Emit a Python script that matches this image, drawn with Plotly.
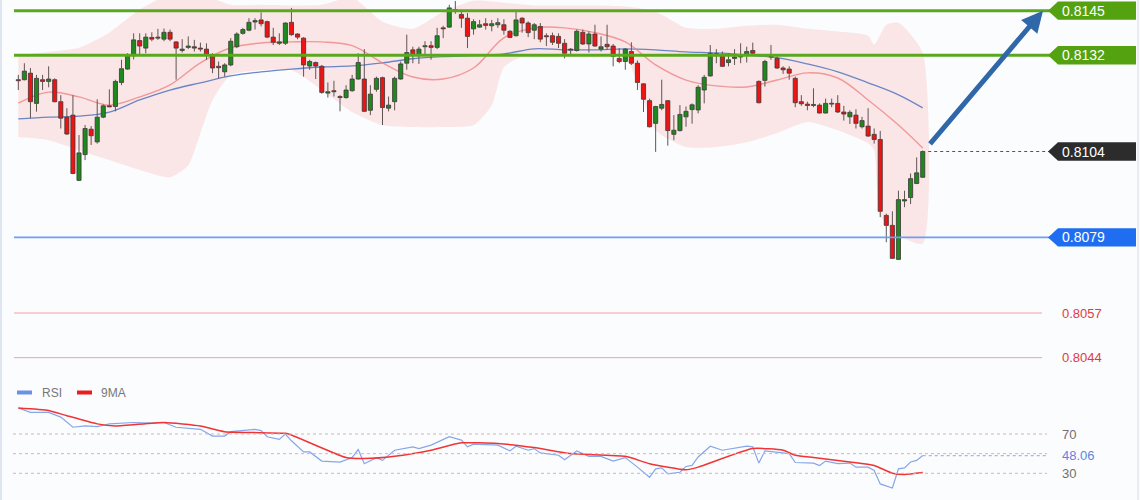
import plotly.graph_objects as go

# ---------------- data ----------------
open_ = [0.81249,0.81249,0.81268,0.81180,0.81249,0.81244,0.81249,0.81185,0.81140,0.81146,
         0.80956,0.81031,0.81105,0.81068,0.81140,0.81173,0.81171,0.81241,0.81280,0.81319,
         0.81363,0.81341,0.81372,0.81370,0.81367,0.81387,0.81359,0.81334,0.81343,0.81345,
         0.81341,0.81338,0.81322,0.81288,0.81272,0.81292,0.81345,0.81384,0.81393,0.81417,
         0.81423,0.81418,0.81373,0.81355,0.81355,0.81416,0.81382,0.81370,0.81289,0.81299,
         0.81288,0.81210,0.81217,0.81200,0.81197,0.81217,0.81251,0.81251,0.81160,0.81221,
         0.81255,0.81166,0.81185,0.81251,0.81297,0.81336,0.81319,0.81345,0.81348,0.81343,
         0.81400,0.81402,0.81453,0.81439,0.81428,0.81397,0.81402,0.81412,0.81406,0.81409,
         0.81409,0.81390,0.81377,0.81428,0.81414,0.81393,0.81404,0.81377,0.81377,0.81375,
         0.81355,0.81338,0.81334,0.81387,0.81353,0.81382,0.81338,0.81352,0.81347,0.81311,
         0.81302,0.81331,0.81297,0.81237,0.81188,0.81122,0.81166,0.81188,0.81090,0.81101,
         0.81141,0.81162,0.81161,0.81219,0.81260,0.81319,0.81322,0.81299,0.81311,0.81315,
         0.81322,0.81334,0.81244,0.81247,0.81315,0.81311,0.81283,0.81280,0.81253,0.81185,
         0.81178,0.81174,0.81175,0.81152,0.81180,0.81180,0.81155,0.81141,0.81146,0.81112,
         0.81114,0.81090,0.81075,0.80854,0.80825,0.80726,0.80896,0.80906,0.80947,0.80965]
high = [0.81263,0.81297,0.81283,0.81263,0.81263,0.81288,0.81253,0.81204,0.81166,0.81204,
        0.81088,0.81117,0.81114,0.81192,0.81177,0.81221,0.81249,0.81307,0.81326,0.81384,
        0.81384,0.81384,0.81387,0.81397,0.81398,0.81395,0.81361,0.81367,0.81375,0.81365,
        0.81357,0.81355,0.81326,0.81302,0.81297,0.81370,0.81387,0.81400,0.81428,0.81428,
        0.81445,0.81421,0.81400,0.81384,0.81416,0.81458,0.81384,0.81373,0.81307,0.81302,
        0.81292,0.81241,0.81246,0.81204,0.81233,0.81263,0.81326,0.81338,0.81233,0.81258,
        0.81258,0.81200,0.81258,0.81302,0.81380,0.81345,0.81345,0.81361,0.81361,0.81400,
        0.81406,0.81467,0.81478,0.81453,0.81443,0.81425,0.81423,0.81428,0.81423,0.81428,
        0.81425,0.81393,0.81448,0.81431,0.81419,0.81414,0.81414,0.81384,0.81386,0.81384,
        0.81367,0.81341,0.81395,0.81395,0.81390,0.81409,0.81375,0.81409,0.81353,0.81341,
        0.81341,0.81358,0.81305,0.81239,0.81194,0.81173,0.81249,0.81190,0.81146,0.81175,
        0.81171,0.81180,0.81233,0.81263,0.81350,0.81338,0.81331,0.81326,0.81338,0.81355,
        0.81345,0.81357,0.81247,0.81307,0.81350,0.81317,0.81288,0.81288,0.81258,0.81204,
        0.81185,0.81224,0.81180,0.81194,0.81194,0.81204,0.81173,0.81160,0.81163,0.81141,
        0.81166,0.81107,0.81100,0.80859,0.80866,0.80926,0.80926,0.80976,0.81023,0.81043]
low = [0.81219,0.81247,0.81137,0.81156,0.81219,0.81227,0.81183,0.81107,0.81088,0.80974,
       0.80954,0.81015,0.81059,0.81063,0.81137,0.81169,0.81157,0.81233,0.81278,0.81308,
       0.81319,0.81326,0.81361,0.81365,0.81361,0.81361,0.81249,0.81328,0.81338,0.81331,
       0.81331,0.81307,0.81268,0.81253,0.81258,0.81288,0.81341,0.81380,0.81390,0.81395,
       0.81404,0.81370,0.81350,0.81350,0.81350,0.81377,0.81367,0.81258,0.81278,0.81251,
       0.81208,0.81197,0.81200,0.81157,0.81194,0.81214,0.81249,0.81155,0.81146,0.81214,
       0.81117,0.81157,0.81160,0.81249,0.81278,0.81297,0.81295,0.81322,0.81307,0.81338,
       0.81370,0.81400,0.81441,0.81400,0.81341,0.81380,0.81400,0.81395,0.81390,0.81400,
       0.81380,0.81370,0.81375,0.81386,0.81373,0.81367,0.81358,0.81347,0.81350,0.81341,
       0.81311,0.81319,0.81331,0.81350,0.81328,0.81345,0.81331,0.81336,0.81288,0.81297,
       0.81278,0.81292,0.81219,0.81155,0.81110,0.81039,0.81160,0.81057,0.81073,0.81098,
       0.81112,0.81121,0.81151,0.81180,0.81258,0.81297,0.81286,0.81288,0.81292,0.81297,
       0.81299,0.81322,0.81180,0.81229,0.81307,0.81280,0.81266,0.81249,0.81169,0.81173,
       0.81160,0.81169,0.81151,0.81151,0.81169,0.81152,0.81130,0.81120,0.81107,0.81107,
       0.81083,0.81063,0.80849,0.80776,0.80728,0.80724,0.80878,0.80887,0.80945,0.80965]
close = [0.81246,0.81274,0.81185,0.81253,0.81244,0.81251,0.81185,0.81137,0.81091,0.80976,
         0.81036,0.81107,0.81086,0.81140,0.81173,0.81170,0.81244,0.81281,0.81317,0.81365,
         0.81347,0.81373,0.81367,0.81373,0.81387,0.81367,0.81341,0.81338,0.81347,0.81341,
         0.81338,0.81322,0.81283,0.81284,0.81292,0.81361,0.81382,0.81395,0.81416,0.81421,
         0.81412,0.81373,0.81358,0.81359,0.81414,0.81380,0.81373,0.81292,0.81302,0.81289,
         0.81212,0.81214,0.81214,0.81197,0.81219,0.81251,0.81299,0.81157,0.81207,0.81253,
         0.81168,0.81175,0.81253,0.81295,0.81328,0.81322,0.81338,0.81348,0.81343,0.81377,
         0.81397,0.81458,0.81450,0.81428,0.81375,0.81418,0.81409,0.81407,0.81412,0.81415,
         0.81393,0.81372,0.81423,0.81414,0.81386,0.81409,0.81367,0.81374,0.81358,0.81355,
         0.81326,0.81335,0.81390,0.81353,0.81382,0.81347,0.81345,0.81345,0.81317,0.81302,
         0.81338,0.81297,0.81241,0.81192,0.81112,0.81171,0.81177,0.81101,0.81102,0.81148,
         0.81157,0.81176,0.81227,0.81256,0.81326,0.81325,0.81288,0.81307,0.81315,0.81322,
         0.81331,0.81326,0.81182,0.81302,0.81317,0.81283,0.81278,0.81268,0.81182,0.81179,
         0.81174,0.81177,0.81152,0.81180,0.81178,0.81155,0.81149,0.81154,0.81122,0.81130,
         0.81085,0.81075,0.80866,0.80825,0.80729,0.80900,0.80900,0.80961,0.80978,0.81040]
candle_idx = list(range(len(close)))

bb_up_idx = [0,5,10,15,20,25,30,35,40,45,50,55,60,65,70,75,80,85,90,95,100,105,110,115,
             120,125,130,135,140,141,143,145,149]
bb_upper = [0.81321,0.81330,0.81342,0.81386,0.81453,0.81497,0.81497,0.81467,0.81467,0.81465,
            0.81467,0.81488,0.81418,0.81397,0.81447,0.81479,0.81473,0.81465,0.81465,0.81465,
            0.81462,0.81447,0.81400,0.81397,0.81406,0.81409,0.81397,0.81389,0.81377,0.81351,
            0.81409,0.81415,0.81327]
bb_lo_idx = [0,5,10,15,20,25,28,30,32,35,40,45,50,55,60,65,70,75,78,80,83,85,90,95,100,103,
             105,110,115,120,125,130,135,140,141,142,145,149]
bb_lower = [0.81082,0.81073,0.81044,0.81015,0.80986,0.80965,0.81000,0.81094,0.81190,0.81263,
            0.81277,0.81277,0.81219,0.81155,0.81117,0.81111,0.81111,0.81117,0.81175,0.81286,
            0.81316,0.81316,0.81316,0.81316,0.81313,0.81190,0.81102,0.81053,0.81053,0.81067,
            0.81094,0.81126,0.81102,0.81064,0.81044,0.80854,0.80796,0.80772]
ma_idx = [0,5,10,15,20,25,30,35,40,45,50,55,60,65,70,75,80,85,90,95,100,105,110,115,120,125,
          130,135,140,145,149]
ma_fast = [0.81181,0.81213,0.81199,0.81175,0.81199,0.81234,0.81298,0.81342,0.81356,0.81359,
           0.81359,0.81348,0.81298,0.81257,0.81251,0.81283,0.81371,0.81400,0.81400,0.81386,
           0.81359,0.81292,0.81248,0.81231,0.81228,0.81248,0.81269,0.81254,0.81190,0.81117,
           0.81050]
ma_slow = [0.81135,0.81140,0.81143,0.81155,0.81190,0.81219,0.81240,0.81260,0.81272,0.81280,
           0.81286,0.81289,0.81298,0.81310,0.81316,0.81319,0.81324,0.81339,0.81336,0.81336,
           0.81339,0.81336,0.81330,0.81327,0.81321,0.81313,0.81295,0.81272,0.81240,0.81205,
           0.81167]

rsi_idx = [0,2,5,7,9,11,13,15,19,22,24,26,30,32,34,35,39,40,41,43,44,45,47,48,50,53,55,56,57,
           59,60,62,65,66,68,71,73,74,75,79,81,82,84,85,86,89,90,92,94,96,98,100,102,104,105,
           106,107,109,110,111,112,114,116,118,120,121,122,123,125,127,128,131,132,133,135,
           137,138,140,141,142,144,145,146,147,148,149]
rsi = [96.5,92.0,92.0,87.2,76.9,78.2,77.5,80.3,81.7,81.0,81.7,76.9,74.8,67.9,67.9,72.4,74.8,
       73.4,67.2,64.5,70.0,63.1,51.8,51.8,42.5,41.5,46.0,54.2,39.8,46.0,43.2,53.5,56.9,55.2,
       58.7,67.2,63.8,56.9,59.7,58.7,52.8,57.6,53.5,55.2,50.8,48.4,43.9,52.8,47.3,47.3,42.5,
       46.0,36.3,26.0,34.6,35.6,29.5,31.1,37.0,38.0,46.6,57.6,53.5,55.2,57.6,56.9,40.4,52.8,
       51.8,50.1,41.0,40.4,38.0,42.5,39.8,40.4,36.3,36.3,32.9,19.2,15.1,34.6,35.6,41.5,43.2,
       48.06]
ma9_idx = [0,5,8,13,16,24,30,34,44,45,54,57,62,68,73,79,85,91,100,104,110,112,121,126,128,
           131,137,141,144,146,149]
ma9 = [96.5,94.0,88.6,80.3,78.2,81.7,78.2,72.4,70.7,69.0,46.0,45.0,47.3,53.5,61.0,60.3,56.2,
       50.1,47.3,39.8,33.6,36.3,55.2,53.5,48.4,46.0,41.5,38.0,30.1,28.8,30.8]

green_levels = [0.8145, 0.8132]
current_level = 0.8104
support_level = 0.8079
red_levels = [0.8057, 0.8044]
rsi_levels = [70, 50, 30]
rsi_last = 48.06

# ---------------- layout geometry ----------------
W, H = 1140, 500
X0_PX, DX_PX = 18.3, 6.07               # pixel of first candle, pixel step per candle
x_range = [(0 - X0_PX) / DX_PX, (W - X0_PX) / DX_PX]
PRICE_BOTTOM_PX = 380
price_range = [0.80375, 0.81481]
rsi_range = [2.86, 104.6]
price_per_px = (price_range[1] - price_range[0]) / PRICE_BOTTOM_PX

def px(xp):
    return xp / W

def ypaper(yp):
    return 1 - yp / H

FONT = "Liberation Sans, Arial, sans-serif"
UP_COL, DOWN_COL = "#1d8a1d", "#ee1414"

fig = go.Figure()

# Bollinger band fill and moving averages (base price axis, drawn underneath)
fig.add_trace(go.Scatter(
    x=bb_up_idx + bb_lo_idx[::-1], y=bb_upper + bb_lower[::-1],
    fill="toself", fillcolor="rgba(252,208,208,0.5)", mode="lines",
    line=dict(width=0, shape="spline", smoothing=0.6), hoverinfo="skip", showlegend=False))
fig.add_trace(go.Scatter(x=ma_idx, y=ma_slow, mode="lines",
                         line=dict(color="#6a86c4", width=1.3, shape="spline"),
                         hoverinfo="skip", showlegend=False))
fig.add_trace(go.Scatter(x=ma_idx, y=ma_fast, mode="lines",
                         line=dict(color="rgba(238,125,125,0.75)", width=1.4, shape="spline"),
                         hoverinfo="skip", showlegend=False))

# candles on an overlaying price axis so they sit above the band
body_top = [max(o, c) for o, c in zip(open_, close)]
body_base = [min(o, c) for o, c in zip(open_, close)]
wx, wy = [], []
for i, h, l, bt, bb in zip(candle_idx, high, low, body_top, body_base):
    wx += [i, i, None, i, i, None]
    wy += [bt, h, None, l, bb, None]
body_len = [max(t - b, 0.000025) for t, b in zip(body_top, body_base)]
body_col = [UP_COL if c >= o else DOWN_COL for o, c in zip(open_, close)]
fig.add_trace(go.Scatter(x=wx, y=wy, mode="lines", yaxis="y3",
                         line=dict(color="#5e5454", width=1),
                         hoverinfo="skip", showlegend=False))
fig.add_trace(go.Bar(x=candle_idx, y=body_len, base=body_base, width=0.68, yaxis="y3",
                     marker=dict(color=body_col, line=dict(color="#3b3333", width=0.8)),
                     hoverinfo="skip", showlegend=False))

# RSI panel
fig.add_trace(go.Scatter(x=rsi_idx, y=rsi, mode="lines", yaxis="y2",
                         line=dict(color="#86a6ea", width=1.2),
                         hoverinfo="skip", showlegend=False))
fig.add_trace(go.Scatter(x=ma9_idx, y=ma9, mode="lines", yaxis="y2",
                         line=dict(color="#f03434", width=1.5, shape="spline", smoothing=0.5),
                         hoverinfo="skip", showlegend=False))

shapes = []
annotations = []

# frame lines
shapes.append(dict(type="line", xref="paper", yref="paper", x0=px(1), x1=px(1), y0=0, y1=1,
                   line=dict(color="#dfe6f2", width=2)))
shapes.append(dict(type="line", xref="paper", yref="paper", x0=px(1138), x1=px(1138), y0=0, y1=1,
                   line=dict(color="#e6ebf4", width=2)))

LINE_X0, LINE_X1 = px(14), px(1050)
for lv in green_levels:
    shapes.append(dict(type="line", xref="paper", yref="y", x0=LINE_X0, x1=LINE_X1, y0=lv, y1=lv,
                       line=dict(color="#5aa81e", width=3)))
shapes.append(dict(type="line", xref="paper", yref="y", x0=LINE_X0, x1=LINE_X1,
                   y0=support_level, y1=support_level, line=dict(color="#6c9ef2", width=1.6)))
for lv in red_levels:
    shapes.append(dict(type="line", xref="paper", yref="y", x0=LINE_X0, x1=px(1042), y0=lv, y1=lv,
                       line=dict(color="#f4a0a0", width=1)))
shapes.append(dict(type="line", xref="x", yref="y", x0=candle_idx[-1] + 0.9, x1=(1050 - X0_PX) / DX_PX,
                   y0=current_level, y1=current_level,
                   line=dict(color="#555555", width=1.2, dash="dot")))

def tag(level, color, text):
    half = 9.2 * price_per_px
    xt, xb, xr = px(1048), px(1058), px(1136)
    path = (f"M {xt},{level} L {xb},{level + half} L {xr},{level + half} "
            f"L {xr},{level - half} L {xb},{level - half} Z")
    shapes.append(dict(type="path", xref="paper", yref="y", path=path,
                       fillcolor=color, line=dict(width=0)))
    annotations.append(dict(x=px(1060), y=level, xref="paper", yref="y", text=text,
                            showarrow=False, xanchor="left", yanchor="middle",
                            font=dict(family=FONT, size=14, color="#ffffff")))

for lv in green_levels:
    tag(lv, "#55a210", f"{lv:.4f}")
tag(current_level, "#2c2c2c", f"{current_level:.4f}")
tag(support_level, "#1f6ef2", f"{support_level:.4f}")
for lv in red_levels:
    annotations.append(dict(x=px(1060), y=lv, xref="paper", yref="y", text=f"{lv:.4f}",
                            showarrow=False, xanchor="left", yanchor="middle",
                            font=dict(family=FONT, size=13, color="#e23a3a")))

# forecast arrow from last candle to the upper target
annotations.append(dict(
    x=(1043 - X0_PX) / DX_PX, y=green_levels[0], xref="x", yref="y",
    ax=candle_idx[-1] + 1.0, ay=close[-1] + 0.00018, axref="x", ayref="y",
    text="", showarrow=True, arrowhead=2, arrowsize=0.85, arrowwidth=5, arrowcolor="#2f67a8"))

# RSI guide lines and labels
for lv in rsi_levels:
    shapes.append(dict(type="line", xref="paper", yref="y2", x0=px(13), x1=px(1047), y0=lv, y1=lv,
                       line=dict(color="#dcb0b0", width=1, dash="dot")))
shapes.append(dict(type="line", xref="x", yref="y2", x0=rsi_idx[-1], x1=(1047 - X0_PX) / DX_PX,
                   y0=rsi_last, y1=rsi_last, line=dict(color="#9cb8f0", width=1.2, dash="dot")))
for lv in (70, 30):
    annotations.append(dict(x=px(1060), y=lv, xref="paper", yref="y2", text=str(lv),
                            showarrow=False, xanchor="left", yanchor="middle",
                            font=dict(family=FONT, size=13, color="#707070")))
annotations.append(dict(x=px(1060), y=rsi_last, xref="paper", yref="y2", text=f"{rsi_last:.2f}",
                        showarrow=False, xanchor="left", yanchor="middle",
                        font=dict(family=FONT, size=13, color="#5b86e2")))

# RSI legend
leg_y = ypaper(392.5)
shapes.append(dict(type="line", xref="paper", yref="paper", x0=px(17), x1=px(32), y0=leg_y, y1=leg_y,
                   line=dict(color="#6a90ea", width=4)))
annotations.append(dict(x=px(40), y=leg_y, xref="paper", yref="paper", text="RSI", showarrow=False,
                        xanchor="left", yanchor="middle", font=dict(family=FONT, size=12, color="#777777")))
shapes.append(dict(type="line", xref="paper", yref="paper", x0=px(77), x1=px(92), y0=leg_y, y1=leg_y,
                   line=dict(color="#ee1c1c", width=4)))
annotations.append(dict(x=px(99), y=leg_y, xref="paper", yref="paper", text="9MA", showarrow=False,
                        xanchor="left", yanchor="middle", font=dict(family=FONT, size=12, color="#777777")))

fig.update_layout(
    width=W, height=H, autosize=False,
    margin=dict(l=0, r=0, t=0, b=0, pad=0),
    paper_bgcolor="#fbfcfe", plot_bgcolor="rgba(0,0,0,0)",
    showlegend=False, hovermode=False, barmode="overlay",
    xaxis=dict(range=x_range, visible=False, fixedrange=True),
    yaxis=dict(range=price_range, domain=[1 - PRICE_BOTTOM_PX / H, 1], visible=False, fixedrange=True),
    yaxis3=dict(range=price_range, overlaying="y", visible=False, fixedrange=True),
    yaxis2=dict(range=rsi_range, domain=[0, 0.2], visible=False, fixedrange=True),
    shapes=shapes, annotations=annotations,
)

fig.write_html("out.html", config={"displayModeBar": False},
               post_script="document.body.style.margin='0';document.body.style.overflow='hidden';")
